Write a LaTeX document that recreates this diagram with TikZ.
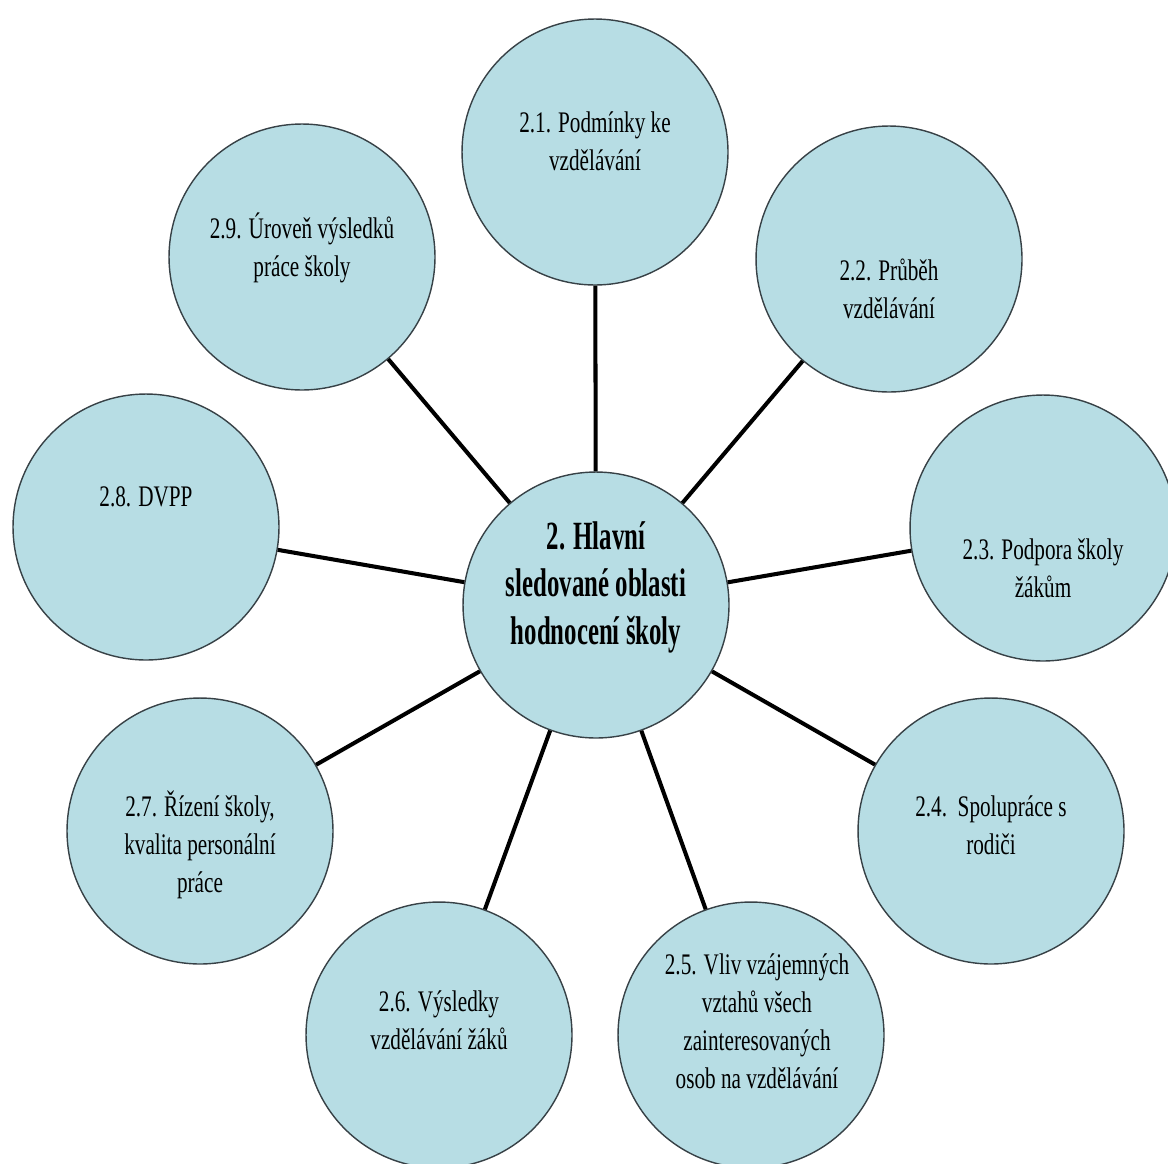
\documentclass[tikz,border=0pt]{standalone}
\usepackage{fontspec}
\setmainfont{Liberation Serif}
\newfontfamily\leaffont{Liberation Serif}[FakeStretch=0.71]
\newfontfamily\hubfont{Liberation Serif}[FakeStretch=0.62]
\usepackage{tikz}
\definecolor{bubblefill}{RGB}{183,221,228}
\definecolor{bubbleline}{RGB}{55,65,70}

\begin{document}
\begin{tikzpicture}[x=0.02cm, y=-0.02cm,
        bubble/.style={circle, draw=bubbleline, line width=0.8pt, fill=bubblefill, minimum size=5.32cm, inner sep=0pt},
        leaftext/.style={align=center, font=\leaffont\fontsize{17}{21.6}\selectfont, inner sep=0pt},
        hubtext/.style={align=center, font=\hubfont\bfseries\fontsize{22.8}{27}\selectfont, inner sep=0pt},
        spoke/.style={black, line width=2.3pt}]
        \useasboundingbox (0,0) rectangle (1168,1163);

        %% hub
        \node[bubble] (hub) at (596,605) {};
        \node[hubtext, yshift=0.36cm] (thub) at (hub) {2. Hlavní\\ sledované oblasti\\ hodnocení školy};

        %% areas
        \node[bubble] (c21) at (595,152) {};
        \node[leaftext, yshift=0.22cm] (t21) at (c21) {2.1. Podmínky ke\\ vzdělávání};
        \node[bubble] (c22) at (889,259) {};
        \node[leaftext, yshift=-0.6cm] (t22) at (c22) {2.2. Průběh\\ vzdělávání};
        \node[bubble] (c23) at (1043,528) {};
        \node[leaftext, yshift=-0.8cm] (t23) at (c23) {2.3. Podpora školy\\ žákům};
        \node[bubble] (c24) at (991,831) {};
        \node[leaftext, yshift=0.12cm] (t24) at (c24) {2.4.\ \ Spolupráce s\\ rodiči};
        \node[bubble] (c25) at (751,1035) {};
        \node[leaftext, xshift=0.12cm, yshift=0.28cm] (t25) at (c25) {2.5. Vliv vzájemných\\ vztahů všech\\ zainteresovaných\\ osob na vzdělávání};
        \node[bubble] (c26) at (439,1035) {};
        \node[leaftext, yshift=0.3cm] (t26) at (c26) {2.6. Výsledky\\ vzdělávání žáků};
        \node[bubble] (c27) at (200,831) {};
        \node[leaftext, yshift=-0.28cm] (t27) at (c27) {2.7. Řízení školy,\\ kvalita personální\\ práce};
        \node[bubble] (c28) at (146,527) {};
        \node[leaftext, yshift=0.6cm] (t28) at (c28) {2.8. DVPP};
        \node[bubble] (c29) at (302,257) {};
        \node[leaftext, yshift=0.18cm] (t29) at (c29) {2.9. Úroveň výsledků\\ práce školy};

        %% spokes
        \draw[spoke] (hub) -- (c21);
        \draw[spoke] (hub) -- (c22);
        \draw[spoke] (hub) -- (c23);
        \draw[spoke] (hub) -- (c24);
        \draw[spoke] (hub) -- (c25);
        \draw[spoke] (hub) -- (c26);
        \draw[spoke] (hub) -- (c27);
        \draw[spoke] (hub) -- (c28);
        \draw[spoke] (hub) -- (c29);
\end{tikzpicture}
\end{document}
